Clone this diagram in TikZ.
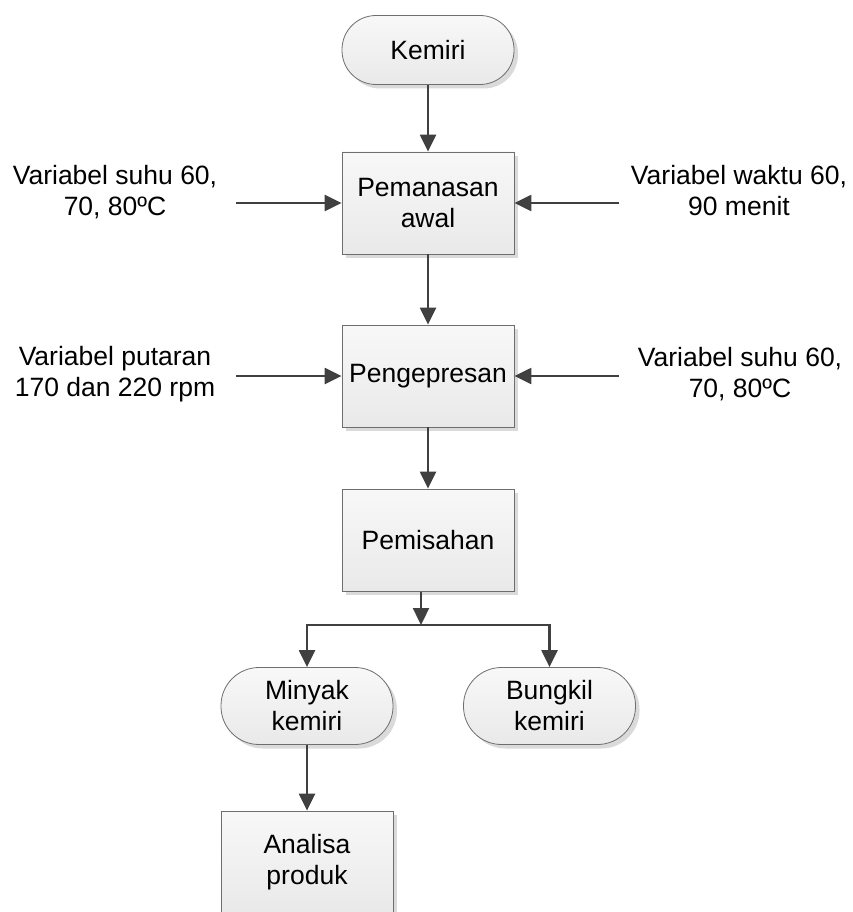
\documentclass[tikz,border=0pt]{standalone}
\usepackage{fontspec}
\setmainfont{Liberation Sans}
\usetikzlibrary{arrows.meta,shadows}
\definecolor{linec}{HTML}{404040}
\definecolor{boxline}{HTML}{6E6E6E}
\definecolor{filltop}{HTML}{F8F8F8}
\definecolor{fillbot}{HTML}{E9E9E9}
\definecolor{shadowc}{HTML}{DADADA}
\begin{document}
\begin{tikzpicture}[x=1pt,y=-1pt,
  font=\fontsize{26.5}{31}\selectfont,
  procbox/.style={draw=boxline, line width=0.8pt, top color=filltop, bottom color=fillbot,
    minimum width=172pt, minimum height=102pt, inner sep=0pt, align=center,
    drop shadow={shadow xshift=4pt, shadow yshift=-4pt, fill=shadowc, opacity=1}},
  termbox/.style={procbox, minimum height=69pt, rounded corners=34pt},
  flow/.style={draw=linec, line width=2.3pt, -{Triangle[length=17pt,width=16pt]}},
  lab/.style={align=center, inner sep=0pt}]
\useasboundingbox (0,0) rectangle (853,912);
\fill[white] (0,0) rectangle (853,912);

\node[termbox] (kem) at (428,50) {Kemiri};
\node[procbox] (pem) at (428,203) {Pemanasan\\awal};
\node[procbox] (pen) at (428,376) {Pengepresan};
\node[procbox] (pis) at (428,540) {Pemisahan};
\node[termbox, minimum height=77pt, rounded corners=38pt] (min) at (307,706) {Minyak\\kemiri};
\node[termbox, minimum height=77pt, rounded corners=38pt] (bun) at (549.5,706) {Bungkil\\kemiri};
\node[procbox] (ana) at (307,862) {Analisa\\produk};

\node[lab] (l1) at (115,192) {Variabel suhu 60,\\70, 80ºC};
\node[lab] (r1) at (739,191) {Variabel waktu 60,\\90 menit};
\node[lab] (l2) at (115,374) {Variabel putaran\\170 dan 220 rpm};
\node[lab] (r2) at (740,374) {Variabel suhu 60,\\70, 80ºC};

\coordinate (c1) at (236,203);
\coordinate (c2) at (619,203);
\coordinate (c3) at (236,376);
\coordinate (c4) at (619,376);
\coordinate (pb) at (421,592);
\coordinate (j) at (421,625);

\draw[flow] (kem) -- (pem);
\draw[flow] (pem) -- (pen);
\draw[flow] (pen) -- (pis);
\draw[flow] (c1) -- (pem.west);
\draw[flow] (c2) -- (pem.east);
\draw[flow] (c3) -- (pen.west);
\draw[flow] (c4) -- (pen.east);
\draw[flow] (pb) -- (j);
\draw[flow] (j) -| (min.north);
\draw[flow] (j) -| (bun.north);
\draw[flow] (min) -- (ana);
\end{tikzpicture}
\end{document}
